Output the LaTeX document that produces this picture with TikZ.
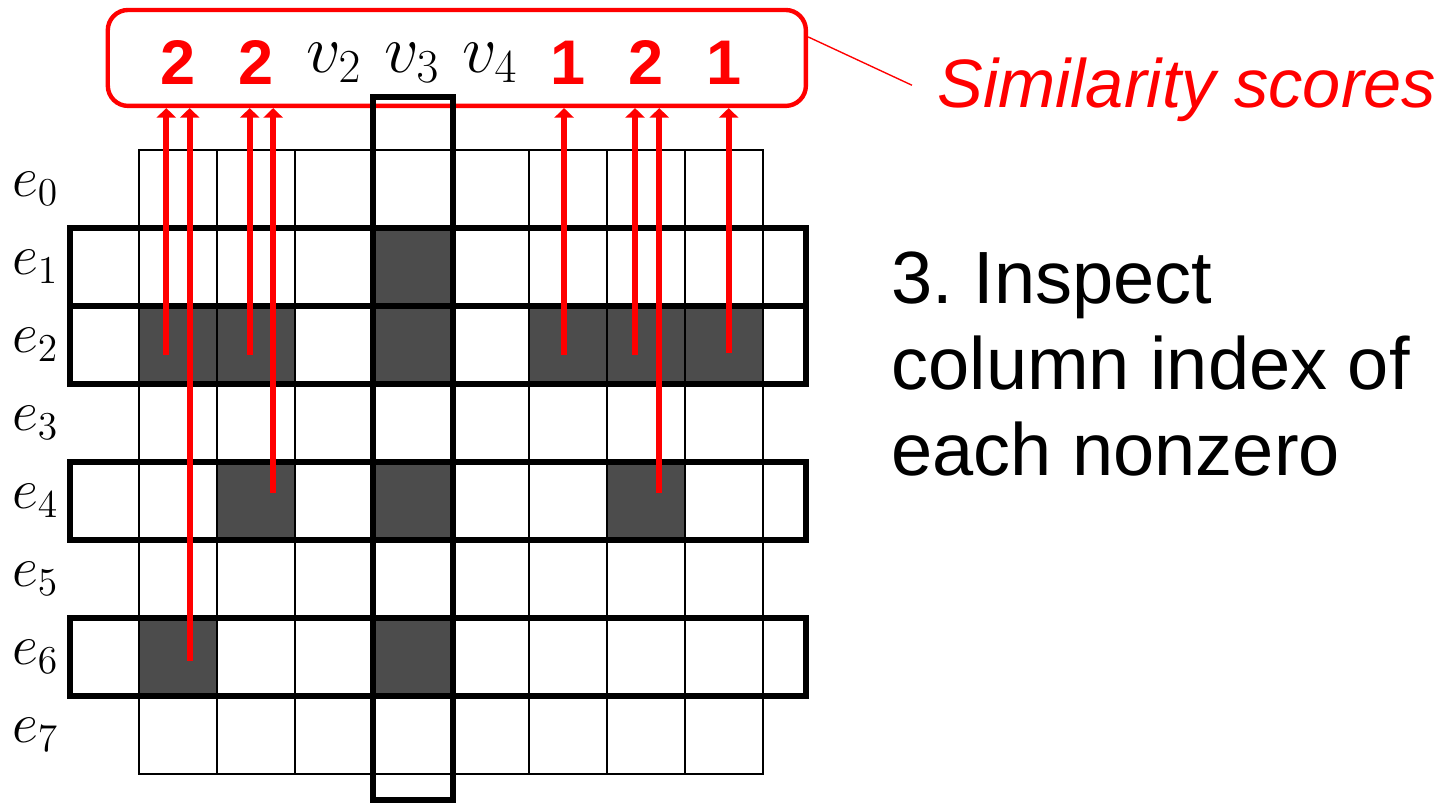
\documentclass[tikz,border=0pt]{standalone}
\usepackage[no-math]{fontspec}
\setmainfont{Liberation Sans}
\usetikzlibrary{arrows.meta, positioning}

\begin{document}
\begin{tikzpicture}[
  cell/.style={draw, line width=0.7pt, minimum size=1cm, inner sep=0pt},
  nz/.style={fill=black!70},
  rowbox/.style={draw, line width=2.2pt},
  scorebox/.style={draw=red, line width=1.6pt, rounded corners=0.26cm,
    minimum width=8.95cm, minimum height=1.23cm, inner sep=0pt},
  score/.style={text=red, font=\fontsize{23}{27}\selectfont\bfseries},
  vlab/.style={font=\fontsize{24}{28}\selectfont, anchor=base},
  elab/.style={font=\fontsize{22}{26}\selectfont},
  hit/.style={draw=red, line width=2.2pt, -{Triangle[width=7pt,length=3.5pt]}},
  ]
  \useasboundingbox (-1.782,1.923) rectangle (16.885,-8.41);

  % score box on top
  \node[scorebox] (scores) at (4.075,1.18) {};

  % nonzeros, then the grid
  \foreach \r/\c in {1/3, 2/0, 2/1, 2/3, 2/5, 2/6, 2/7, 4/1, 4/3, 4/6, 6/0, 6/3}
    \fill[nz] (\c,-\r) rectangle ++(1,-1);
  \foreach \r in {0,...,7}
    \foreach \c in {0,...,7}
      \node[cell] (c\r\c) at (\c+0.5,-\r-0.5) {};

  \foreach \r in {0,...,7}
    \node[elab] (e\r) at (-1.33,-\r-0.5) {$e_\r$};

  % selected rows and the query column
  \foreach \r in {1,2,4,6}
    \draw[rowbox] (-0.885,-\r) rectangle (8.55,-\r-1);
  \draw[rowbox] (3,0.68) rectangle (4.02,-8.33);

  % labels inside the box
  \foreach \c/\s in {0/2, 1/2, 5/1, 6/2, 7/1}
    \node[score] (s\c) at (\c+0.5,1.12) {\s};
  \foreach \c in {2,3,4}
    \node[vlab] (v\c) at (\c+0.5,0.99) {$v_\c$};

  % column index lookups
  \foreach \r/\c/\dx/\dy in {2/0/-0.15/-0.13, 6/0/0.15/-0.05, 2/1/-0.08/-0.13,
                             4/1/0.22/0.1, 2/5/-0.05/-0.13, 2/6/-0.14/-0.13,
                             4/6/0.17/0.1, 2/7/0.06/-0.1} {
    \coordinate (p) at ([xshift=\dx cm, yshift=\dy cm]c\r\c.center);
    \draw[hit] (p) -- (p |- scores.south);
  }

  \node[text=red, font=\fontsize{25}{30}\selectfont\itshape, anchor=base west,
    inner sep=0pt] (simlab) at (10.23,0.54) {Similarity scores};
  \coordinate (leadA) at ([yshift=0.27cm]scores.east);
  \coordinate (leadB) at (9.91,0.83);
  \draw[red, line width=0.5pt] (leadA) -- (leadB);

  \node[font=\fontsize{27}{31.4}\selectfont, align=left, anchor=north west,
    inner sep=0pt] (stepnote) at (9.64,-1.30) {3.~Inspect\\column index of\\each nonzero};
\end{tikzpicture}
\end{document}
